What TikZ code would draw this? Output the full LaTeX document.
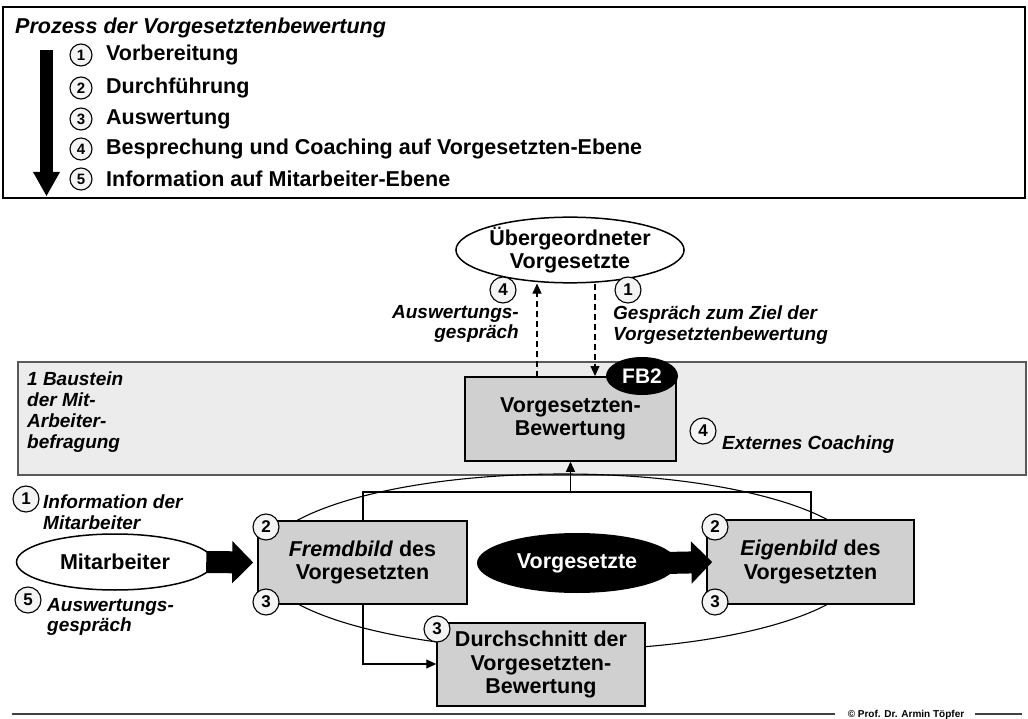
\documentclass[tikz,border=0pt]{standalone}
\usepackage{fontspec}
\setmainfont{Liberation Sans}
\usetikzlibrary{arrows.meta,calc,shapes.geometric}
\definecolor{boxgray}{HTML}{D0D0D0}
\definecolor{bandgray}{HTML}{ECECEC}
\definecolor{numgray}{HTML}{F4F4F4}
\begin{document}
\begin{tikzpicture}[x=1pt,y=-1pt,
  numc/.style={circle,draw,line width=1.1pt,fill=numgray,minimum size=26pt,inner sep=0pt,font=\bfseries\fontsize{17}{17}\selectfont},
  numt/.style={numc,minimum size=22pt,font=\bfseries\fontsize{15}{15}\selectfont},
  item/.style={anchor=west,inner sep=0pt,font=\bfseries\fontsize{21.5}{21.5}\selectfont},
  lbl/.style={inner sep=0pt,font=\bfseries\itshape\fontsize{19}{20.7}\selectfont},
  gbox/.style={draw,line width=1.5pt,fill=boxgray,inner sep=0pt,align=center,font=\bfseries\fontsize{21.5}{23.3}\selectfont},
  thin/.style={line width=1.1pt},
  tip/.style={-{Triangle[width=9pt,length=10pt]}},
  fat/.style={line width=22pt,-{Triangle[width=41pt,length=21pt]}}
]
\useasboundingbox (0,0) rectangle (1028,719);
\fill[white] (0,0) rectangle (1028,719);

% top box
\draw[line width=1.3pt] (3,7) rectangle (1025,198);
\node[anchor=west,inner sep=0pt,font=\bfseries\itshape\fontsize{21.5}{21.5}\selectfont] (title) at (15,28) {Prozess der Vorgesetztenbewertung};
\fill (40,50) rectangle (53,172);
\fill (33,172) -- (60,172) -- (46.5,196) -- cycle;
\node[numt] (c1) at (81,55) {1};
\node[numt] (c2) at (81,88) {2};
\node[numt] (c3) at (81,119) {3};
\node[numt] (c4) at (81,149) {4};
\node[numt] (c5) at (81,179) {5};
\node[item] (t1) at (106,55) {Vorbereitung};
\node[item] (t2) at (106,88) {Durchführung};
\node[item] (t3) at (106,119) {Auswertung};
\node[item] (t4) at (106,149) {Besprechung und Coaching auf Vorgesetzten-Ebene};
\node[item] (t5) at (106,179) {Information auf Mitarbeiter-Ebene};

% gray band
\draw[line width=1.3pt,draw=black!65,fill=bandgray] (18,362) rectangle (1026,475);
\node[lbl,anchor=north west,align=left] (baustein) at (27,372) {1 Baustein\\der Mit-\\Arbeiter-\\befragung};

% big thin ellipse (behind)
\draw[thin] (563,562) ellipse [x radius=301.6pt, y radius=88pt];

% superior ellipse
\node[ellipse,draw,line width=1.5pt,fill=white,minimum width=226pt,minimum height=64pt,inner sep=0pt,align=center,font=\bfseries\fontsize{21.5}{23.5}\selectfont] (sup) at (570,250) {Übergeordneter\\Vorgesetzte};

% Vorgesetzten-Bewertung box
\node[gbox,minimum width=211pt,minimum height=84pt] (vb) at (570.5,419) {Vorgesetzten-\\Bewertung};
\node[ellipse,fill=black,minimum width=72pt,minimum height=38pt,inner sep=0pt,text=white,font=\bfseries\fontsize{21}{21}\selectfont] (fb2) at (642,376) {FB2};

% dashed arrows
\coordinate (upb) at (537,377);
\coordinate (dnb) at (595,376);
\draw[thin,dash pattern=on 6pt off 4pt,tip] (upb) -- (upb |- sup.south);
\draw[thin,dash pattern=on 6pt off 4pt,tip] (dnb |- sup.south) -- (dnb);
\node[numc] (c4a) at (503,290) {4};
\node[numc] (c1a) at (628,290) {1};
\node[lbl,anchor=north east,align=right] (ausw1) at (519,305) {Auswertungs-\\gespräch};
\node[lbl,anchor=north west,align=left] (gespr) at (613,306) {Gespräch zum Ziel der\\Vorgesetztenbewertung};

\node[numc] (c4b) at (703,431) {4};
\node[lbl,anchor=west] (coach) at (722,445) {Externes Coaching};

% left side
\node[ellipse,draw,line width=1.5pt,fill=white,minimum width=197pt,minimum height=56pt,inner sep=0pt,font=\bfseries\fontsize{21.5}{21.5}\selectfont] (mit) at (115,562) {Mitarbeiter};
\node[numc] (c1b) at (26,499) {1};
\node[lbl,anchor=north west,align=left] (info) at (43,495) {Information der\\Mitarbeiter};
\node[numc] (c5b) at (28,600) {5};
\node[lbl,anchor=north west,align=left] (ausw2) at (47,598) {Auswertungs-\\gespräch};

% boxes
\node[gbox,minimum width=209pt,minimum height=83pt] (fremd) at (362.5,562.5) {\textit{Fremdbild} des\\Vorgesetzten};
\node[gbox,minimum width=207pt,minimum height=84pt] (eigen) at (810.5,562) {\textit{Eigenbild} des\\Vorgesetzten};
\node[gbox,minimum width=208pt,minimum height=83pt] (durch) at (541,664.5) {Durchschnitt der\\Vorgesetzten-\\Bewertung};

\node[numc] (f2) at (266,527) {2};
\node[numc] (f3) at (266,602) {3};
\node[numc] (e2) at (715,527) {2};
\node[numc] (e3) at (715,602) {3};
\node[numc] (d3) at (437,629) {3};

% Vorgesetzte black ellipse
\node[ellipse,fill=black,minimum width=200pt,minimum height=60pt,inner sep=0pt,text=white,font=\bfseries\fontsize{21.5}{21.5}\selectfont] (vg) at (577,563) {Vorgesetzte};

% fat arrows
\draw[fat] ($(mit.east)+(-8,0)$) -- ($(fremd.west)+(-4,0)$);
\draw[fat] ($(vg.east)+(-12,0)$) -- ($(eigen.west)+(6,0)$);

% connectors
\coordinate (fx) at (363,492);
\coordinate (ex) at (811,492);
\draw[thin] (fremd.north -| fx) -- (fx) -- (ex) -- (eigen.north -| ex);
\draw[thin,tip] (vb.south |- fx) -- (vb.south);
\coordinate (dy) at (363,664);
\draw[thin,tip] (fremd.south -| dy) -- (dy) -- (durch.west |- dy);

% footer
\draw[line width=1.3pt,black!75] (12,714) -- (835,714);
\draw[line width=1.3pt,black!75] (975,714) -- (1022,714);
\node[inner sep=0pt,font=\bfseries\fontsize{10}{10}\selectfont] (copy) at (906,715) {© Prof. Dr. Armin Töpfer};
\end{tikzpicture}
\end{document}
